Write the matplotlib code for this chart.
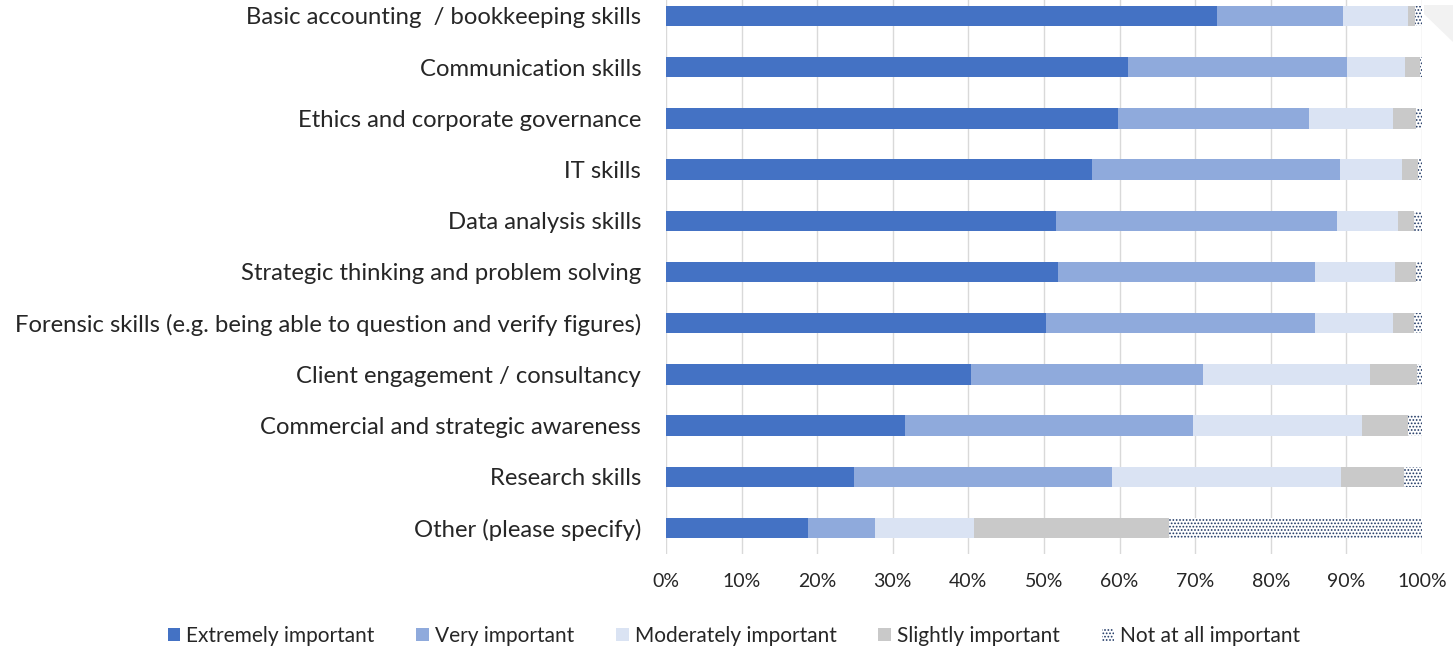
import matplotlib.pyplot as plt
from matplotlib.patches import Patch, Polygon
import numpy as np

categories = [
    "Basic accounting  / bookkeeping skills",
    "Communication skills",
    "Ethics and corporate governance",
    "IT skills",
    "Data analysis skills",
    "Strategic thinking and problem solving",
    "Forensic skills (e.g. being able to question and verify figures)",
    "Client engagement / consultancy",
    "Commercial and strategic awareness",
    "Research skills",
    "Other (please specify)",
]

# shares in %
extremely = [72.9, 61.1, 59.8, 56.3, 51.6, 51.9, 50.3, 40.4, 31.6, 24.9, 18.8]
very = [16.7, 29.0, 25.3, 32.8, 37.2, 34.0, 35.5, 30.6, 38.1, 34.1, 8.8]
moderately = [8.6, 7.7, 11.1, 8.3, 8.0, 10.5, 10.4, 22.1, 22.3, 30.3, 13.2]
slightly = [0.9, 1.9, 3.0, 2.1, 2.1, 2.8, 2.7, 6.2, 6.2, 8.3, 25.7]
not_at_all = [0.9, 0.3, 0.8, 0.5, 1.1, 0.8, 1.1, 0.7, 1.8, 2.4, 33.5]

series = ["Extremely important", "Very important", "Moderately important",
          "Slightly important", "Not at all important"]
colors = ["#4472C4", "#8FAADC", "#DAE3F3", "#C9C9C9", "white"]

plt.rcParams['font.family'] = ['Lato', 'DejaVu Sans']
plt.rcParams['hatch.linewidth'] = 0.8
text_col = "#262626"
dots = "#1F3864"

W, H = 1453, 648
fig = plt.figure(figsize=(W / 100, H / 100), dpi=100)
ax = fig.add_axes([666 / W, (H - 553.6) / H, (1422 - 666) / W, (553.6 + 9.6) / H])

# decorative grey corner from the slide
fig.patches.append(Polygon([(1424 / W, 1 - 5 / H), (1, 1 - 5 / H), (1, 1 - 42 / H), (1424 / W, 1 - 14 / H)],
                           closed=True, transform=fig.transFigure, facecolor="#F2F2F2",
                           edgecolor="none", zorder=0))

y = np.arange(len(categories))
data = np.array([extremely, very, moderately, slightly, not_at_all]) / 100.0
left = np.zeros(len(categories))
for i, vals in enumerate(data):
    if i == 4:
        ax.barh(y, vals, left=left, height=0.4, color="white", edgecolor=dots,
                hatch=".....", linewidth=0, zorder=3)
    else:
        ax.barh(y, vals, left=left, height=0.4, color=colors[i], linewidth=0, zorder=3)
    left += vals

ax.set_xlim(0, 1)
ax.set_ylim(len(categories) - 0.5, -0.5)
ax.set_xticks(np.arange(0, 1.01, 0.1))
ax.set_xticklabels([f"{int(round(v * 100))}%" for v in np.arange(0, 1.01, 0.1)])
ax.set_yticks(y)
ax.set_yticklabels(categories)
ax.tick_params(axis="y", length=0, pad=18, labelsize=17.2, labelcolor=text_col)
ax.tick_params(axis="x", length=0, pad=14, labelsize=14, labelcolor=text_col)
ax.grid(axis="x", color="#D9D9D9", linewidth=1, zorder=0)
ax.set_axisbelow(True)
for s in ax.spines.values():
    s.set_visible(False)

handles = [Patch(facecolor=colors[i], edgecolor="none") for i in range(4)]
handles.append(Patch(facecolor="white", edgecolor=dots, hatch=".....", linewidth=0))
fig.legend(handles, series, loc="center", bbox_to_anchor=(734 / W, 1 - 636 / H), ncol=5,
           frameon=False, fontsize=15, handlelength=0.6, handleheight=0.6,
           handletextpad=0.3, columnspacing=2.0, labelcolor=text_col)

fig.savefig("out.png", dpi=100)
